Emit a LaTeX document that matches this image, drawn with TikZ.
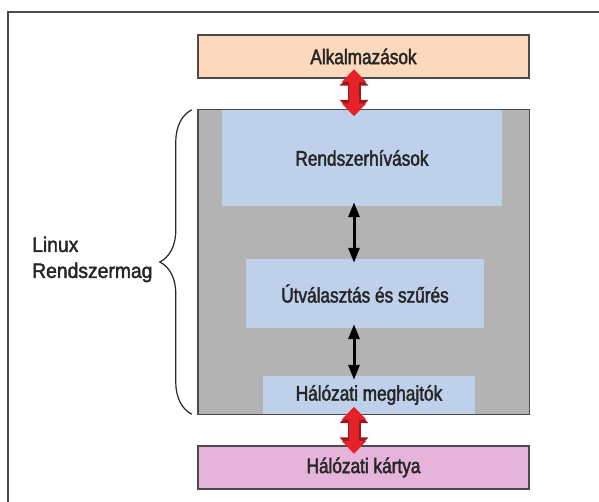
\documentclass[tikz,border=0pt]{standalone}
\usepackage{fontspec}
\setmainfont{Liberation Sans}
\newfontfamily\boxfont{Liberation Sans}[FakeStretch=0.82,FakeBold=2]
\newfontfamily\sidefont{Liberation Sans}[FakeStretch=0.92,FakeBold=2]
\usetikzlibrary{arrows.meta,decorations.pathreplacing}
\definecolor{peach}{HTML}{FCD9BC}
\definecolor{kernelgray}{HTML}{B3B3B3}
\definecolor{subblue}{HTML}{BFD0EA}
\definecolor{cardpink}{HTML}{E6B3DA}
\definecolor{framegray}{HTML}{4A4A4A}
\definecolor{textgray}{HTML}{262626}
\definecolor{arrowred}{HTML}{E52228}
\definecolor{arrowrim}{HTML}{9A1A1E}
\begin{document}
\begin{tikzpicture}
  [x=1pt,y=-1pt,
   every node/.style={inner sep=0pt,text=textgray,font=\boxfont\fontsize{21}{25}\selectfont},
   layer/.style={draw=framegray,line width=1.4pt,minimum width=331pt,minimum height=43pt},
   sub/.style={fill=subblue},
   redrim/.style={line width=13pt,draw=arrowrim,{Triangle[width=28pt,length=15pt]}-{Triangle[width=28pt,length=15pt]}},
   redarrow/.style={line width=10pt,draw=arrowred,{Triangle[width=24pt,length=13pt]}-{Triangle[width=24pt,length=13pt]}},
   blackarrow/.style={line width=3pt,draw=black,{Triangle[width=11pt,length=15pt]}-{Triangle[width=11pt,length=15pt]},shorten <=-4pt,shorten >=-4pt}]
  \useasboundingbox (0,0) rectangle (599,502);
  \draw[framegray,line width=1.5pt] (8,502) -- (8,12) -- (599,12);

  \node[layer,fill=peach] (alk) at (363.5,56.5) {Alkalmazások};
  \node[fill=kernelgray,minimum width=331pt,minimum height=304pt] (kernel) at (363.5,262) {};
  \node[sub,minimum width=280pt,minimum height=96pt] (rsh) at (362,158) {Rendszerhívások};
  \node[sub,minimum width=238pt,minimum height=69pt] (utv) at (365,293.5) {Útválasztás és szűrés};
  \node[sub,minimum width=212pt,minimum height=38pt] (hmh) at (369,395) {Hálózati meghajtók};
  \draw[framegray,line width=1.4pt] (kernel.south west) rectangle (kernel.north east);
  \node[layer,fill=cardpink] (hk) at (363.5,467.5) {Hálózati kártya};

  \node[font=\sidefont\fontsize{21}{26}\selectfont,align=left,anchor=west] (lbl) at (32,259.5) {Linux\\Rendszermag};
  \draw[decorate,decoration={brace,amplitude=32pt},line width=1.2pt,textgray]
    ([xshift=-6pt]kernel.south west) -- ([xshift=-6pt]kernel.north west);

  \coordinate (redx) at (354,0);
  \coordinate (blackx) at (354,0);
  \foreach \from/\to/\a/\b in {alk/kernel/-8/-5,kernel/hk/-6/-7} {
    \draw[redrim,shorten <=\a pt,shorten >=\b pt] (\from.south -| redx) -- (\to.north -| redx);
    \draw[redarrow,shorten <=\a pt-1.5pt,shorten >=\b pt-1.5pt] (\from.south -| redx) -- (\to.north -| redx);
  }
  \foreach \from/\to in {rsh/utv,utv/hmh}
    \draw[blackarrow] (\from.south -| blackx) -- (\to.north -| blackx);
\end{tikzpicture}
\end{document}
